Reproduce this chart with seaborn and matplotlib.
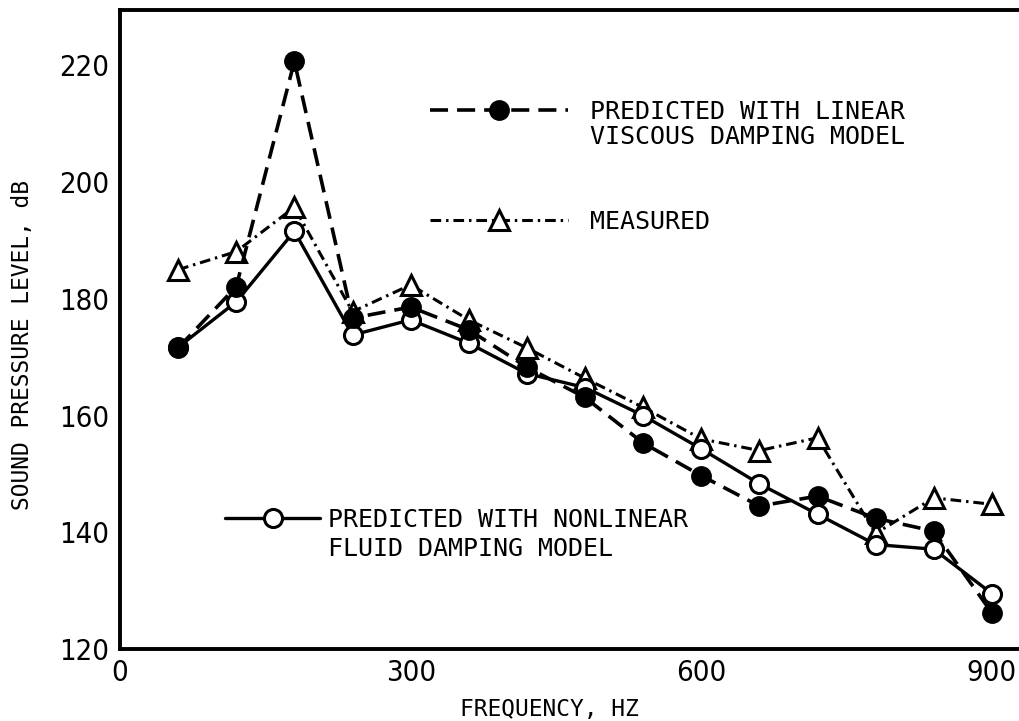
import seaborn as sns
import matplotlib.pyplot as plt
import pandas as pd
from matplotlib.lines import Line2D
from matplotlib.font_manager import FontProperties

# frequencies (Hz) and sound pressure level (dB)
freq = [60, 120, 180, 240, 300, 360, 420, 480, 540, 600, 660, 720, 780, 840, 900]
measured = [185.0, 188.1, 195.7, 177.8, 182.4, 176.4, 171.6, 166.4, 161.4, 156.0,
            154.0, 156.2, 139.8, 145.9, 144.8]
linear_viscous = [171.6, 182.1, 220.7, 176.7, 178.6, 174.7, 168.3, 163.1, 155.3, 149.7,
                  144.5, 146.2, 142.4, 140.2, 126.2]
nonlinear_fluid = [171.7, 179.5, 191.6, 173.8, 176.4, 172.4, 167.2, 164.8, 160.0, 154.3,
                   148.3, 143.1, 137.9, 137.1, 129.5]

x_ticks = [0, 300, 600, 900]
y_ticks = [120, 140, 160, 180, 200, 220]

df = pd.DataFrame({'freq': freq, 'measured': measured,
                   'linear': linear_viscous, 'nonlinear': nonlinear_fluid})

sns.set_style('white')
plt.rcParams['font.family'] = ['DejaVu Sans']
plt.rcParams['font.stretch'] = 'condensed'
plt.rcParams['text.color'] = 'black'
plt.rcParams['axes.labelcolor'] = 'black'
mono = FontProperties(family=['DejaVu Sans Mono', 'DejaVu Sans'], size=18)
mono_ax = FontProperties(family=['DejaVu Sans Mono', 'DejaVu Sans'], size=16.5)

fig = plt.figure(figsize=(10.19, 7.21), dpi=100)
ax = fig.add_axes([120 / 1019, 1 - 649 / 721, 899 / 1019, 639 / 721])

sns.lineplot(data=df, x='freq', y='measured', ax=ax, color='black', linewidth=2.2,
             linestyle=(0, (3.5, 1.6, 0.8, 1.6)), marker='^', markersize=14,
             markerfacecolor='white', markeredgecolor='black', markeredgewidth=2.2,
             legend=False)
sns.lineplot(data=df, x='freq', y='nonlinear', ax=ax, color='black', linewidth=2.4,
             linestyle='-', marker='o', markersize=13,
             markerfacecolor='white', markeredgecolor='black', markeredgewidth=2.2,
             legend=False)
sns.lineplot(data=df, x='freq', y='linear', ax=ax, color='black', linewidth=2.6,
             linestyle=(0, (5, 2.5)), marker='o', markersize=13.5,
             markerfacecolor='black', markeredgecolor='black', markeredgewidth=1.5,
             legend=False)
meas_line, nonlin_line, lin_line = ax.lines[0], ax.lines[1], ax.lines[2]

ax.set_xlim(0, 928)
ax.set_ylim(120, 229.5)
ax.set_xticks(x_ticks)
ax.set_yticks(y_ticks)
ax.tick_params(axis='both', direction='in', length=15, width=2.2, labelsize=21,
               colors='black', top=False, right=False)
ax.tick_params(axis='y', pad=8)
ax.tick_params(axis='x', pad=7)
for side in ['left', 'bottom', 'top']:
    ax.spines[side].set_linewidth(2.8)
    ax.spines[side].set_color('black')
ax.spines['right'].set_visible(False)

ax.set_xlabel('FREQUENCY, HZ', fontproperties=mono_ax, va='center')
ax.xaxis.set_label_coords(0.478, -0.094)
ax.set_ylabel('SOUND PRESSURE LEVEL, dB', fontproperties=mono_ax, va='center')
ax.yaxis.set_label_coords(-0.109, 0.476)

blank = Line2D([], [], linestyle='none')
common = dict(loc='upper left', bbox_transform=fig.transFigure, frameon=False,
              borderpad=0, borderaxespad=0, prop=mono, labelcolor='black')

leg1 = ax.legend([lin_line, blank], ['PREDICTED WITH LINEAR', 'VISCOUS DAMPING MODEL'],
                 bbox_to_anchor=(430 / 1019, 1 - 100 / 721), handlelength=5.5,
                 handletextpad=0.9, labelspacing=0.05, **common)
ax.add_artist(leg1)
leg2 = ax.legend([meas_line], ['MEASURED'],
                 bbox_to_anchor=(430 / 1019, 1 - 210 / 721), handlelength=5.5,
                 handletextpad=0.9, **common)
ax.add_artist(leg2)
leg3 = ax.legend([nonlin_line, blank], ['PREDICTED WITH NONLINEAR', 'FLUID DAMPING MODEL'],
                 bbox_to_anchor=(225 / 1019, 1 - 508 / 721), handlelength=3.8,
                 handletextpad=0.32, labelspacing=0.2, **common)

fig.savefig('out.png', dpi=100)
